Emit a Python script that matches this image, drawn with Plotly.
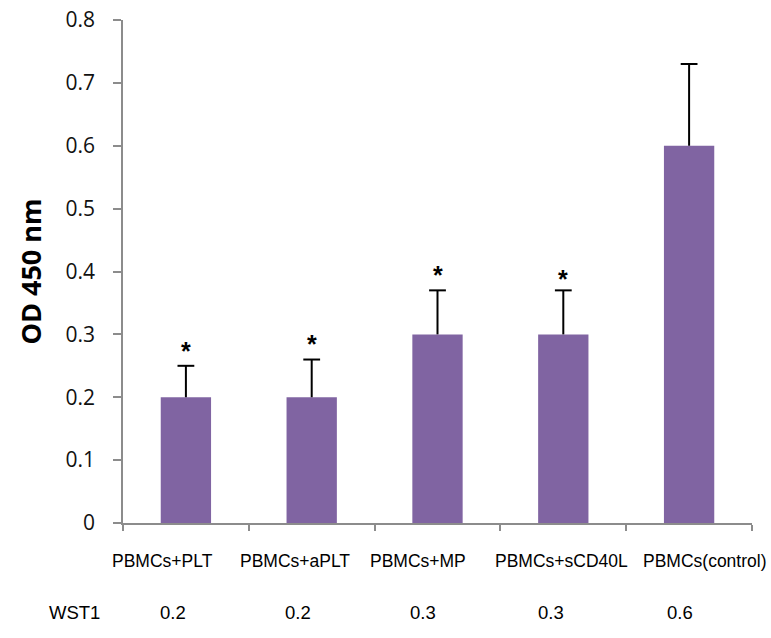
import plotly.graph_objects as go

categories = ["PBMCs+PLT", "PBMCs+aPLT", "PBMCs+MP", "PBMCs+sCD40L", "PBMCs(control)"]
od_values = [0.2, 0.2, 0.3, 0.3, 0.6]
od_errors = [0.05, 0.06, 0.07, 0.07, 0.13]
significant = [True, True, True, True, False]
row_label = "WST1"
y_ticks = [0, 0.1, 0.2, 0.3, 0.4, 0.5, 0.6, 0.7, 0.8]
y_tick_text = ["0", "0.1", "0.2", "0.3", "0.4", "0.5", "0.6", "0.7", "0.8"]

# layout offsets (pixels) for the table-like text rows below the axis
label_shift = [-23, -17, -20, -2, 16]
value_shift = [-13, -14, -15, -12, -9]
star_shift = [18, 19, 18, 14, 0]

bar_color = "#8064A2"
axis_color = "#8C8C8C"

upper = [v + e for v, e in zip(od_values, od_errors)]

fig = go.Figure()
fig.add_trace(go.Bar(
    x=categories,
    y=od_values,
    width=0.4,
    marker=dict(color=bar_color, line=dict(width=0)),
    showlegend=False,
    hoverinfo="skip",
))

# upper-only error bars: stem + cap
stem_x, stem_y = [], []
for cat, v, u in zip(categories, od_values, upper):
    stem_x += [cat, cat, None]
    stem_y += [v, u, None]
fig.add_trace(go.Scatter(
    x=stem_x, y=stem_y, mode="lines",
    line=dict(color="black", width=2),
    showlegend=False, hoverinfo="skip",
))
fig.add_trace(go.Scatter(
    x=categories, y=upper, mode="markers",
    marker=dict(symbol="line-ew-open", size=12, color="black",
                line=dict(color="black", width=2)),
    showlegend=False, hoverinfo="skip",
))

annotations = []
for i, cat in enumerate(categories):
    if significant[i]:
        annotations.append(dict(
            x=cat, y=upper[i], xref="x", yref="y",
            text="<b>*</b>", showarrow=False, yanchor="middle",
            yshift=star_shift[i] - 3,
            font=dict(family="Liberation Sans", size=25, color="black"),
        ))
    annotations.append(dict(
        x=cat, y=0, xref="x", yref="y", text=cat, showarrow=False,
        yanchor="middle", xanchor="center", yshift=-38, xshift=label_shift[i],
        font=dict(family="Liberation Sans", size=17.5, color="black"),
    ))
    annotations.append(dict(
        x=cat, y=0, xref="x", yref="y", text=f"{od_values[i]:.1f}",
        showarrow=False, yanchor="middle", xanchor="center", yshift=-89,
        xshift=value_shift[i],
        font=dict(family="Liberation Sans", size=18.5, color="black"),
    ))
annotations.append(dict(
    x=-0.5, y=0, xref="x", yref="y", text=row_label, showarrow=False,
    yanchor="middle", xanchor="center", yshift=-89, xshift=-49,
    font=dict(family="Liberation Sans", size=18.5, color="black"),
))

fig.update_layout(
    width=771, height=638,
    margin=dict(l=123, r=19, t=20, b=115, autoexpand=False),
    paper_bgcolor="white", plot_bgcolor="white",
    bargap=0.6,
    annotations=annotations,
    xaxis=dict(
        type="category", range=[-0.5, 4.5], automargin=False,
        showline=True, linecolor=axis_color, linewidth=1.5,
        ticks="outside", tickson="boundaries", ticklen=6, tickcolor=axis_color,
        tickwidth=1.5, showticklabels=False, showgrid=False, zeroline=False,
        fixedrange=True,
    ),
    yaxis=dict(
        range=[0, 0.8], tickvals=y_ticks, ticktext=y_tick_text,
        automargin=False,
        showline=True, linecolor=axis_color, linewidth=1.5,
        ticks="outside", ticklen=8, tickcolor=axis_color, tickwidth=1.5,
        showgrid=False, zeroline=False, ticklabelstandoff=14,
        tickfont=dict(family="Open Sans", size=21, color="#111111"),
        title=dict(text="<b>OD 450 nm</b>", standoff=16,
                   font=dict(family="Open Sans", size=27, color="black")),
        fixedrange=True,
    ),
)

fig.write_html(
    "out.html",
    config={"displayModeBar": False},
    post_script="document.body.style.margin='0';document.body.style.overflow='hidden';",
)
